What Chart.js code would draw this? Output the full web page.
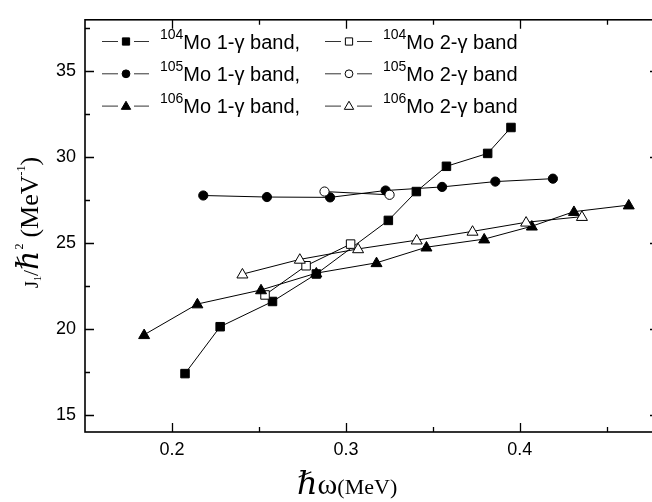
<!DOCTYPE html>
<html>
<head>
<meta charset="utf-8">
<script src="https://cdn.jsdelivr.net/npm/chart.js@4.4.1/dist/chart.umd.min.js"></script>
<style>
  html, body { margin: 0; padding: 0; background: #fff; overflow: hidden; }
  #wrap { width: 652px; height: 502px; overflow: hidden; }
</style>
</head>
<body>
<div id="wrap"><canvas id="chart" width="660" height="502"></canvas></div>
<script>
// hbar*omega (MeV) against J1/hbar^2 (MeV^-1)
const mo104Band1X = [0.2075, 0.2277, 0.2578, 0.283, 0.3244, 0.3405, 0.3578, 0.3815, 0.3949];
const mo104Band1Y = [17.4, 20.13, 21.6, 23.2, 26.32, 28.0, 29.47, 30.22, 31.73];
const mo104Band2X = [0.2535, 0.2771, 0.3027];
const mo104Band2Y = [21.98, 23.68, 24.94];

const mo105Band1X = [0.218, 0.2546, 0.2909, 0.3228, 0.3553, 0.3859, 0.419];
const mo105Band1Y = [27.77, 27.68, 27.66, 28.06, 28.27, 28.58, 28.75];
const mo105Band2X = [0.2877, 0.3251];
const mo105Band2Y = [28.0, 27.81];

const mo106Band1X = [0.184, 0.2146, 0.2512, 0.283, 0.3176, 0.3463, 0.3795, 0.4069, 0.4311, 0.4626];
const mo106Band1Y = [19.66, 21.45, 22.27, 23.25, 23.85, 24.76, 25.23, 25.98, 26.83, 27.21];
const mo106Band2X = [0.2405, 0.2735, 0.307, 0.3407, 0.3728, 0.4036, 0.4357];
const mo106Band2Y = [23.19, 24.05, 24.66, 25.17, 25.68, 26.21, 26.54];

const isotopes = ['104', '105', '106'];
const bandNames = ['Mo 1-\u03b3 band,', 'Mo 2-\u03b3 band'];
const xTickValues = [0.2, 0.25, 0.3, 0.35, 0.4, 0.45];
const yTickValues = [15, 17.5, 20, 22.5, 25, 27.5, 30, 32.5, 35, 37.5];

const toPoints = (xs, ys) => xs.map((x, i) => ({ x: x, y: ys[i] }));

const seriesX = [[mo104Band1X, mo104Band2X], [mo105Band1X, mo105Band2X], [mo106Band1X, mo106Band2X]];
const seriesY = [[mo104Band1Y, mo104Band2Y], [mo105Band1Y, mo105Band2Y], [mo106Band1Y, mo106Band2Y]];
const shapes = ['rect', 'circle', 'triangle'];

const datasets = [];
isotopes.forEach((iso, r) => {
  [0, 1].forEach(c => {
    datasets.push({
      label: iso + bandNames[c],
      data: toPoints(seriesX[r][c], seriesY[r][c]),
      showLine: true,
      borderColor: '#000',
      borderWidth: 1,
      pointStyle: shapes[r],
      pointBackgroundColor: c === 0 ? '#000' : '#fff',
      pointBorderColor: '#000',
      pointBorderWidth: 1,
      pointRadius: 0, // markers are drawn by the plugin so they look like the original
      row: r,
      col: c
    });
  });
});

function drawMarker(ctx, shape, x, y, k, filled) {
  ctx.beginPath();
  if (shape === 'rect') {
    const s = 8.5 * k;
    ctx.rect(x - s / 2, y - s / 2, s, s);
  } else if (shape === 'circle') {
    ctx.arc(x, y, 4.6 * k, 0, Math.PI * 2);
  } else {
    const w = 11 * k, h = 9.5 * k;
    ctx.moveTo(x, y - h * 0.6);
    ctx.lineTo(x - w / 2, y + h * 0.4);
    ctx.lineTo(x + w / 2, y + h * 0.4);
    ctx.closePath();
  }
  ctx.fillStyle = filled ? '#000' : '#fff';
  ctx.fill();
  ctx.lineWidth = 1;
  ctx.strokeStyle = '#000';
  ctx.stroke();
}

const figurePlugin = {
  id: 'figure',
  afterDatasetsDraw(chart) {
    const ctx = chart.ctx;
    ctx.save();
    chart.data.datasets.forEach((ds, i) => {
      chart.getDatasetMeta(i).data.forEach(pt => {
        drawMarker(ctx, ds.pointStyle, pt.x, pt.y, 1, ds.col === 0);
      });
    });
    ctx.restore();
  },
  afterDraw(chart) {
    const ctx = chart.ctx;
    const a = chart.chartArea;
    const xs = chart.scales.x, ys = chart.scales.y;
    ctx.save();

    // frame
    ctx.strokeStyle = '#000';
    ctx.lineWidth = 1.6;
    ctx.strokeRect(a.left, a.top, a.right - a.left, a.bottom - a.top);

    // inward ticks on all four sides
    ctx.lineWidth = 1.3;
    ctx.beginPath();
    xTickValues.forEach(v => {
      const px = Math.round(xs.getPixelForValue(v)) + 0.5;
      const len = Math.round(v * 100) % 10 === 0 ? 9 : 5;
      ctx.moveTo(px, a.bottom); ctx.lineTo(px, a.bottom - len);
      ctx.moveTo(px, a.top); ctx.lineTo(px, a.top + len);
    });
    yTickValues.forEach(v => {
      const py = Math.round(ys.getPixelForValue(v)) + 0.5;
      const len = v % 5 === 0 ? 9 : 5;
      ctx.moveTo(a.left, py); ctx.lineTo(a.left + len, py);
      ctx.moveTo(a.right, py); ctx.lineTo(a.right - len, py);
    });
    ctx.stroke();

    // legend, two columns by three rows
    ctx.fillStyle = '#000';
    ctx.textBaseline = 'alphabetic';
    chart.data.datasets.forEach(ds => {
      const x0 = 102 + ds.col * 223;
      const yc = 41.5 + ds.row * 32.3;
      ctx.strokeStyle = '#333';
      ctx.lineWidth = 1;
      ctx.beginPath();
      ctx.moveTo(x0, yc); ctx.lineTo(x0 + 16, yc);
      ctx.moveTo(x0 + 32, yc); ctx.lineTo(x0 + 47, yc);
      ctx.stroke();
      drawMarker(ctx, ds.pointStyle, x0 + 24, yc, 0.85, ds.col === 0);
      ctx.fillStyle = '#000';
      ctx.font = '14px "Liberation Sans", Arial, sans-serif';
      ctx.fillText(isotopes[ds.row], x0 + 58, yc - 3);
      const w = ctx.measureText(isotopes[ds.row]).width;
      ctx.font = '20px "Liberation Sans", Arial, sans-serif';
      ctx.fillText(bandNames[ds.col], x0 + 58 + w, yc + 7);
    });

    // x axis title
    ctx.font = 'italic 32px "DejaVu Serif", serif';
    ctx.fillText('\u210f', 297, 494);
    let cx = 297 + ctx.measureText('\u210f').width;
    ctx.font = '30px "Liberation Serif", serif';
    ctx.fillText('\u03c9', cx, 494);
    cx += ctx.measureText('\u03c9').width;
    ctx.font = '22px "Liberation Serif", serif';
    ctx.fillText('(MeV)', cx, 494);

    // y axis title, rotated
    ctx.translate(38, 288);
    ctx.rotate(-Math.PI / 2);
    let tx = 0;
    const part = (text, font, dy) => {
      ctx.font = font;
      ctx.fillText(text, tx, dy);
      tx += ctx.measureText(text).width;
    };
    part('J', '18px "Liberation Serif", serif', 0);
    part('1', '10px "Liberation Serif", serif', 3);
    part('/', '22px "Liberation Serif", serif', 0);
    part('\u210f', 'italic 30px "DejaVu Serif", serif', 0);
    tx += 1;
    part('2', '12px "Liberation Serif", serif', -15);
    tx += 6;
    part('(MeV', '26px "Liberation Serif", serif', 0);
    part('-1', '12px "Liberation Serif", serif', -13);
    part(')', '26px "Liberation Serif", serif', 0);

    ctx.restore();
  }
};

new Chart(document.getElementById('chart'), {
  type: 'scatter',
  data: { datasets: datasets },
  options: {
    responsive: false,
    animation: false,
    layout: { padding: { top: 9, right: 1, left: 0, bottom: 0 } },
    plugins: { legend: { display: false }, tooltip: { enabled: false } },
    scales: {
      x: {
        type: 'linear',
        min: 0.15,
        max: 0.48,
        afterBuildTicks: s => { s.ticks = xTickValues.map(v => ({ value: v })); },
        afterFit: s => { s.height = 70; },
        grid: { display: false, drawTicks: false },
        border: { display: false },
        ticks: {
          padding: 7,
          color: '#000',
          font: { family: '"Liberation Sans", Arial, sans-serif', size: 18 },
          maxRotation: 0,
          autoSkip: false,
          callback: v => Math.round(v * 100) % 10 === 0 ? v.toFixed(1) : ''
        }
      },
      y: {
        type: 'linear',
        min: 14,
        max: 38,
        afterBuildTicks: s => { s.ticks = yTickValues.map(v => ({ value: v })); },
        afterFit: s => { s.width = 85; },
        grid: { display: false, drawTicks: false },
        border: { display: false },
        ticks: {
          padding: 9,
          color: '#000',
          font: { family: '"Liberation Sans", Arial, sans-serif', size: 18 },
          autoSkip: false,
          callback: v => v % 5 === 0 ? String(v) : ''
        }
      }
    }
  },
  plugins: [figurePlugin]
});
</script>
</body>
</html>
